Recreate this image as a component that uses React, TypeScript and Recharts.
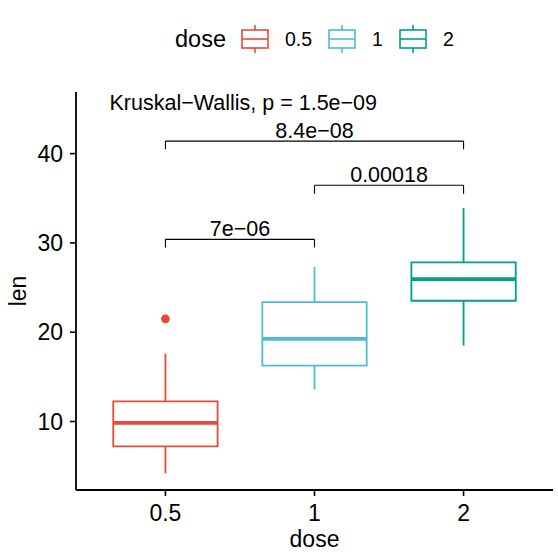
import {
  ComposedChart,
  XAxis,
  YAxis,
  Scatter,
  ReferenceArea,
  ReferenceLine,
  ReferenceDot,
  Legend,
} from "recharts";

const FONT = '"Liberation Sans", Arial, Helvetica, sans-serif';

// box statistics per dose
const doses = ["0.5", "1", "2"];
const doseColors = ["#E64B35", "#4DBBD5", "#00A087"];
const whiskerLow = [4.2, 13.6, 18.5];
const boxLow = [7.225, 16.25, 23.525];
const medians = [9.85, 19.25, 25.95];
const boxHigh = [12.25, 23.375, 27.825];
const whiskerHigh = [17.6, 27.3, 33.9];
const outlierGroup = [0];
const outlierLen = [21.5];

// pairwise comparison brackets
const bracketFrom = [0, 1, 0];
const bracketTo = [1, 2, 2];
const bracketY = [30.4, 36.45, 41.4];
const bracketTip = [29.5, 35.5, 40.5];
const bracketLabels = ["7e−06", "0.00018", "8.4e−08"];
const kruskalLabel = "Kruskal−Wallis, p = 1.5e−09";

const yTicks = [10, 20, 30, 40];
const xTicks = [1, 2, 3];
const HALF = 0.35;

const outlierData = outlierGroup.map((g, i) => ({ x: g + 1, len: outlierLen[i], g }));

function DoseLegend() {
  return (
    <div style={{ display: "flex", alignItems: "center", height: 40, fontFamily: FONT, color: "#000" }}>
      <span style={{ fontSize: 23.5, marginRight: 15 }}>dose</span>
      {doses.map((d, i) => (
        <span key={d} style={{ display: "flex", alignItems: "center" }}>
          <svg width={28} height={30}>
            <line x1={14} x2={14} y1={1} y2={6} stroke={doseColors[i]} strokeWidth={1.6} />
            <line x1={14} x2={14} y1={24} y2={29} stroke={doseColors[i]} strokeWidth={1.6} />
            <rect x={1} y={6} width={26} height={18} fill="#fff" stroke={doseColors[i]} strokeWidth={1.6} />
            <line x1={1} x2={27} y1={15} y2={15} stroke={doseColors[i]} strokeWidth={1.6} />
          </svg>
          <span style={{ fontSize: 19.5, marginLeft: 16, marginRight: i < doses.length - 1 ? 16 : 0 }}>{d}</span>
        </span>
      ))}
    </div>
  );
}

export default function App() {
  return (
    <div style={{ position: "absolute", left: 0, top: 0, width: 558, height: 552, background: "#fff" }}>
      <ComposedChart
        width={558}
        height={552}
        margin={{ top: 92, right: 5, bottom: 0, left: 0 }}
        style={{ fontFamily: FONT }}
      >
        <XAxis
          type="number"
          dataKey="x"
          domain={[0.4, 3.6]}
          allowDataOverflow
          ticks={xTicks}
          interval={0}
          tickFormatter={(v) => doses[v - 1]}
          height={62}
          tickSize={6}
          tickMargin={9}
          tick={{ fill: "#000", fontSize: 23 }}
          axisLine={{ stroke: "#000", strokeWidth: 1.8 }}
          tickLine={{ stroke: "#000", strokeWidth: 1.6 }}
          label={{ value: "dose", position: "insideBottom", offset: 5, fill: "#000", fontSize: 23 }}
        />
        <YAxis
          type="number"
          domain={[2.33, 46.9]}
          allowDataOverflow
          ticks={yTicks}
          interval={0}
          width={76}
          tickSize={6}
          tickMargin={7}
          tick={{ fill: "#000", fontSize: 23 }}
          axisLine={{ stroke: "#000", strokeWidth: 1.8 }}
          tickLine={{ stroke: "#000", strokeWidth: 1.6 }}
          label={{
            value: "len",
            angle: -90,
            position: "insideLeft",
            offset: 18,
            fill: "#000",
            fontSize: 23,
            style: { textAnchor: "middle" },
          }}
        />
        <Legend
          verticalAlign="middle"
          align="center"
          content={() => <DoseLegend />}
          wrapperStyle={{ top: 19, left: 175, width: "auto" }}
        />

        {/* whiskers */}
        {doses.map((d, i) => (
          <ReferenceLine
            key={`wl-${d}`}
            segment={[
              { x: i + 1, y: whiskerLow[i] },
              { x: i + 1, y: boxLow[i] },
            ]}
            stroke={doseColors[i]}
            strokeWidth={1.8}
          />
        ))}
        {doses.map((d, i) => (
          <ReferenceLine
            key={`wh-${d}`}
            segment={[
              { x: i + 1, y: boxHigh[i] },
              { x: i + 1, y: whiskerHigh[i] },
            ]}
            stroke={doseColors[i]}
            strokeWidth={1.8}
          />
        ))}

        {/* boxes */}
        {doses.map((d, i) => (
          <ReferenceArea
            key={`box-${d}`}
            x1={i + 1 - HALF}
            x2={i + 1 + HALF}
            y1={boxLow[i]}
            y2={boxHigh[i]}
            fill="none"
            fillOpacity={0}
            stroke={doseColors[i]}
            strokeWidth={1.8}
          />
        ))}

        {/* medians */}
        {doses.map((d, i) => (
          <ReferenceLine
            key={`med-${d}`}
            segment={[
              { x: i + 1 - HALF, y: medians[i] },
              { x: i + 1 + HALF, y: medians[i] },
            ]}
            stroke={doseColors[i]}
            strokeWidth={3.6}
          />
        ))}

        <Scatter
          data={outlierData}
          dataKey="len"
          isAnimationActive={false}
          shape={(p: any) => <circle cx={p.cx} cy={p.cy} r={4.4} fill={doseColors[p.payload.g]} />}
        />

        {/* comparison brackets */}
        {bracketLabels.map((lab, k) => (
          <ReferenceLine
            key={`bh-${k}`}
            segment={[
              { x: bracketFrom[k] + 1, y: bracketY[k] },
              { x: bracketTo[k] + 1, y: bracketY[k] },
            ]}
            stroke="#000"
            strokeWidth={1.1}
          />
        ))}
        {bracketLabels.map((lab, k) => (
          <ReferenceLine
            key={`bl-${k}`}
            segment={[
              { x: bracketFrom[k] + 1, y: bracketTip[k] },
              { x: bracketFrom[k] + 1, y: bracketY[k] },
            ]}
            stroke="#000"
            strokeWidth={1.1}
          />
        ))}
        {bracketLabels.map((lab, k) => (
          <ReferenceLine
            key={`br-${k}`}
            segment={[
              { x: bracketTo[k] + 1, y: bracketTip[k] },
              { x: bracketTo[k] + 1, y: bracketY[k] },
            ]}
            stroke="#000"
            strokeWidth={1.1}
          />
        ))}
        {bracketLabels.map((lab, k) => (
          <ReferenceDot
            key={`bt-${k}`}
            x={(bracketFrom[k] + bracketTo[k]) / 2 + 1}
            y={bracketY[k]}
            r={0}
            fill="none"
            stroke="none"
            label={{ value: lab, position: "top", offset: 3.5, fill: "#000", fontSize: 21.5 }}
          />
        ))}

        <ReferenceDot
          x={0.625}
          y={45.75}
          r={0}
          fill="none"
          stroke="none"
          label={{ value: kruskalLabel, position: "right", offset: 0, fill: "#000", fontSize: 21.5 }}
        />
      </ComposedChart>
    </div>
  );
}
